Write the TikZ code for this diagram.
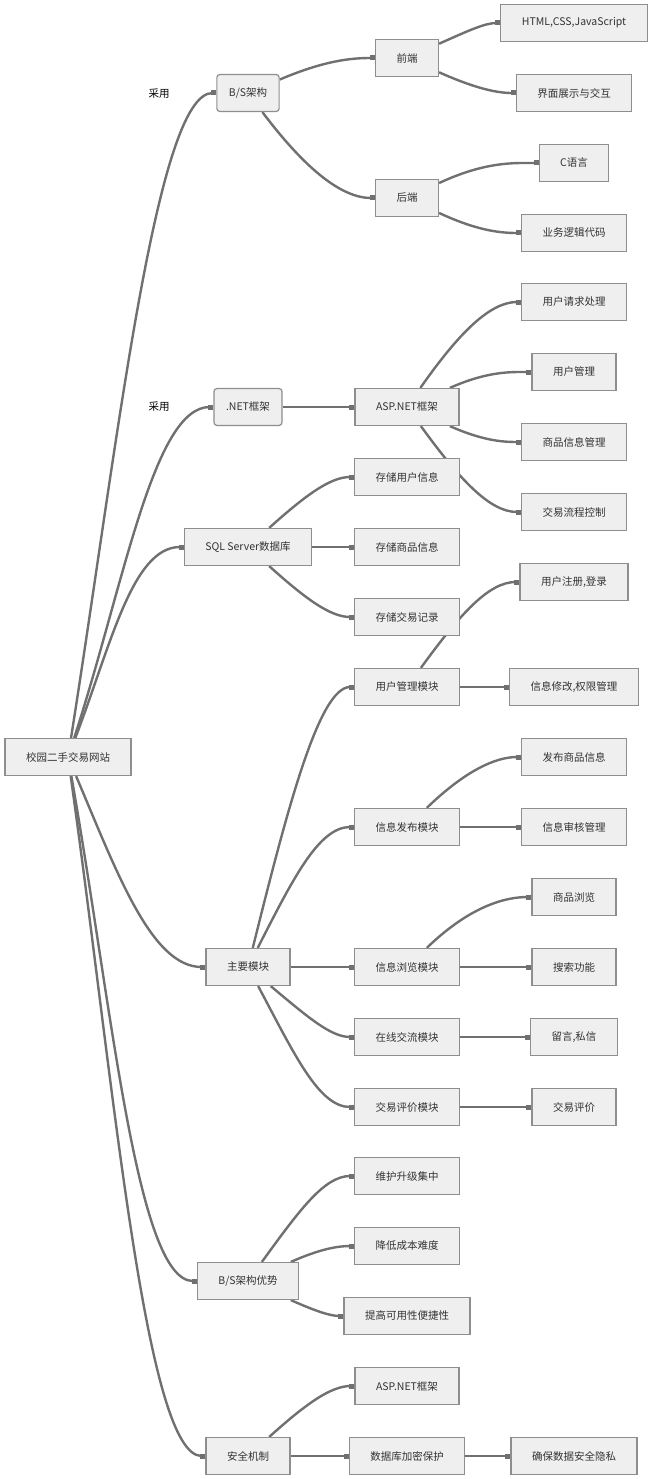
\documentclass[tikz,border=0pt]{standalone}
\usepackage{fontspec}
\setmainfont{Noto Sans CJK SC}
\usetikzlibrary{arrows.meta}
\definecolor{boxfill}{HTML}{EFEFEF}
\definecolor{boxline}{HTML}{8E8E8E}
\definecolor{linkgray}{HTML}{707070}
\definecolor{inkgray}{HTML}{333333}
\pgfdeclarelayer{links}
\pgfsetlayers{links,main}

\begin{document}
\begin{tikzpicture}[x=1pt,y=-1pt,
    every node/.style={font=\fontsize{10.5}{12}\selectfont,text=inkgray},
    topic/.style={draw=boxline,fill=boxfill,line width=1.2pt,minimum height=37pt,inner xsep=21pt,inner ysep=0pt},
    lead/.style={topic,rounded corners=3pt,inner xsep=12pt},
    tag/.style={fill=white,inner sep=1.5pt,text=black},
    link/.style={draw=linkgray,line width=2.4pt,-{Square[length=5pt,width=5pt]}},
    trunk/.style={link,in=180,out looseness=1.15,in looseness=0.6,in max distance=60pt},
    twig/.style={link,in=180,out looseness=1.3,in looseness=0.6,in max distance=35pt}]
    \useasboundingbox (0,0) rectangle (650,1479);
    % root
    \node[topic] (site) at (68,757) {校园二手交易网站};
    % B/S
    \node[lead] (bs) at (248,93) {B/S架构};
    \node[tag] (use1) at (159,94) {采用};
    \node[topic] (front) at (407,58) {前端};
    \node[topic] (web) at (574,23) {HTML,CSS,JavaScript};
    \node[topic] (ui) at (574,93) {界面展示与交互};
    \node[topic] (back) at (407,198) {后端};
    \node[topic] (clang) at (574,163) {C语言};
    \node[topic] (logic) at (574,233) {业务逻辑代码};
    % .NET
    \node[lead] (net) at (248,407) {.NET框架};
    \node[tag] (use2) at (159,407) {采用};
    \node[topic] (asp) at (407,407) {ASP.NET框架};
    \node[topic] (req) at (574,302) {用户请求处理};
    \node[topic] (usr) at (574,372) {用户管理};
    \node[topic] (goods) at (574,442) {商品信息管理};
    \node[topic] (flow) at (574,512) {交易流程控制};
    % database
    \node[topic] (sql) at (248,547) {SQL Server数据库};
    \node[topic] (keepu) at (407,477) {存储用户信息};
    \node[topic] (keepg) at (407,547) {存储商品信息};
    \node[topic] (keept) at (407,617) {存储交易记录};
    % modules
    \node[topic] (mods) at (248,967) {主要模块};
    \node[topic] (modu) at (407,687) {用户管理模块};
    \node[topic] (signin) at (574,582) {用户注册,登录};
    \node[topic] (rights) at (574,687) {信息修改,权限管理};
    \node[topic] (modp) at (407,827) {信息发布模块};
    \node[topic] (post) at (574,757) {发布商品信息};
    \node[topic] (audit) at (574,827) {信息审核管理};
    \node[topic] (modb) at (407,967) {信息浏览模块};
    \node[topic] (browse) at (574,897) {商品浏览};
    \node[topic] (search) at (574,967) {搜索功能};
    \node[topic] (modc) at (407,1037) {在线交流模块};
    \node[topic] (msg) at (574,1037) {留言,私信};
    \node[topic] (modr) at (407,1107) {交易评价模块};
    \node[topic] (rate) at (574,1107) {交易评价};
    % advantages
    \node[topic] (gain) at (248,1281) {B/S架构优势};
    \node[topic] (upkeep) at (407,1176) {维护升级集中};
    \node[topic] (cost) at (407,1246) {降低成本难度};
    \node[topic] (ease) at (407,1316) {提高可用性便捷性};
    % security
    \node[topic] (safe) at (248,1456) {安全机制};
    \node[topic] (asp2) at (407,1386) {ASP.NET框架};
    \node[topic] (crypt) at (407,1456) {数据库加密保护};
    \node[topic] (priv) at (574,1456) {确保数据安全隐私};
    \begin{pgfonlayer}{links}
    \draw[trunk] (site) to[out=81] (bs.west);
    \draw[trunk] (site) to[out=72] (net.west);
    \draw[trunk] (site) to[out=69] (sql.west);
    \draw[trunk] (site) to[out=-67] (mods.west);
    \draw[trunk] (site) to[out=-80] (gain.west);
    \draw[trunk] (site) to[out=-82] (safe.west);
    \draw[twig] (bs) to[out=23] (front.west);
    \draw[twig] (bs) to[out=-53] (back.west);
    \draw[twig] (front) to[out=24] (web.west);
    \draw[twig] (front) to[out=-24] (ui.west);
    \draw[twig] (back) to[out=25] (clang.west);
    \draw[twig] (back) to[out=-25] (logic.west);
    \draw[link] (net) -- (asp);
    \draw[twig] (asp) to[out=55] (req.west);
    \draw[twig] (asp) to[out=24] (usr.west);
    \draw[twig] (asp) to[out=-24] (goods.west);
    \draw[twig] (asp) to[out=-54] (flow.west);
    \draw[twig] (sql) to[out=42] (keepu.west);
    \draw[link] (sql) -- (keepg);
    \draw[twig] (sql) to[out=-42] (keept.west);
    \draw[twig] (mods) to[out=76] (modu.west);
    \draw[twig] (mods) to[out=63] (modp.west);
    \draw[link] (mods) -- (modb);
    \draw[twig] (mods) to[out=-40] (modc.west);
    \draw[twig] (mods) to[out=-62] (modr.west);
    \draw[twig] (modu) to[out=54] (signin.west);
    \draw[link] (modu) -- (rights);
    \draw[twig] (modp) to[out=44] (post.west);
    \draw[link] (modp) -- (audit);
    \draw[twig] (modb) to[out=44] (browse.west);
    \draw[link] (modb) -- (search);
    \draw[link] (modc) -- (msg);
    \draw[link] (modr) -- (rate);
    \draw[twig] (gain) to[out=54] (upkeep.west);
    \draw[twig] (gain) to[out=24] (cost.west);
    \draw[twig] (gain) to[out=-24] (ease.west);
    \draw[twig] (safe) to[out=42] (asp2.west);
    \draw[link] (safe) -- (crypt);
    \draw[link] (crypt) -- (priv);
    \end{pgfonlayer}
\end{tikzpicture}
\end{document}
